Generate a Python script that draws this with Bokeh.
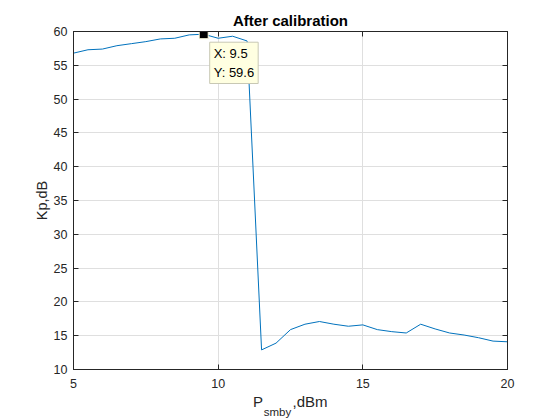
from bokeh.plotting import figure
from bokeh.models import Label, LinearAxis, FixedTicker, Range1d
from bokeh.embed import file_html
from bokeh.resources import INLINE

# ---- data ----
power_dbm = [5.0, 5.5, 6.0, 6.5, 7.0, 7.5, 8.0, 8.5, 9.0, 9.5, 10.0, 10.5, 11.0,
             11.5, 12.0, 12.5, 13.0, 13.5, 14.0, 14.5, 15.0, 15.5, 16.0, 16.5,
             17.0, 17.5, 18.0, 18.5, 19.0, 19.5, 20.0]
kp_db = [56.8, 57.3, 57.4, 57.9, 58.2, 58.5, 58.9, 59.0, 59.5, 59.6, 59.0, 59.3, 58.6,
         12.9, 13.9, 15.9, 16.7, 17.1, 16.7, 16.4, 16.6, 15.9, 15.6, 15.4,
         16.7, 16.0, 15.4, 15.1, 14.7, 14.2, 14.1]
x_ticks = [5, 10, 15, 20]
y_ticks = [10, 15, 20, 25, 30, 35, 40, 45, 50, 55, 60]
tip_x = [9.5]
tip_y = [59.6]
title_text = "After calibration"
ylabel_text = "Kp,dB"
xlabel_main = "P"
xlabel_sub = "smby"
xlabel_tail = ",dBm"

XMIN, XMAX = 5, 20
YMIN, YMAX = 10, 60

FONT = "Liberation Sans"
AX = "#262626"
GRID = "#dfdfdf"

W, H = 560, 420
BL, BR, BT, BB = 73, 53, 31, 50
PX_PER_X = (W - BL - BR) / (XMAX - XMIN)

p = figure(width=W, height=H, output_backend="svg", toolbar_location=None,
           x_range=Range1d(XMIN, XMAX), y_range=Range1d(YMIN, YMAX),
           min_border_left=BL, min_border_right=BR, min_border_top=BT,
           min_border_bottom=BB, background_fill_color="white",
           border_fill_color="white")

p.title.text = title_text
p.title.align = "center"
p.title.text_font = FONT
p.title.text_font_size = "15px"
p.title.text_font_style = "bold"
p.title.text_color = "black"
p.title.standoff = 6

p.outline_line_color = AX
p.outline_line_width = 1

for ax in (p.xaxis[0], p.yaxis[0]):
    ax.major_tick_in = 5
    ax.major_tick_out = 0
    ax.minor_tick_in = 0
    ax.minor_tick_out = 0
    ax.axis_line_color = AX
    ax.major_tick_line_color = AX
    ax.major_label_text_font = FONT
    ax.major_label_text_font_size = "12.5px"
    ax.major_label_text_color = AX

p.xaxis[0].ticker = FixedTicker(ticks=x_ticks)
p.yaxis[0].ticker = FixedTicker(ticks=y_ticks)
p.xaxis[0].major_label_standoff = 9
p.yaxis[0].major_label_standoff = 6

p.yaxis[0].axis_label = ylabel_text
p.yaxis[0].axis_label_text_font = FONT
p.yaxis[0].axis_label_text_font_size = "14.5px"
p.yaxis[0].axis_label_text_font_style = "normal"
p.yaxis[0].axis_label_text_color = AX
p.yaxis[0].axis_label_standoff = 1

# top and right axes with inward ticks only
common = dict(major_tick_in=5, major_tick_out=0, minor_tick_in=0, minor_tick_out=0,
              axis_line_color=AX, major_tick_line_color=AX,
              major_label_text_color=None, major_label_text_font_size="1px",
              major_label_standoff=0)
p.add_layout(LinearAxis(ticker=FixedTicker(ticks=x_ticks), **common), "above")
p.add_layout(LinearAxis(ticker=FixedTicker(ticks=y_ticks), **common), "right")

# x-axis label "P_smby,dBm" built from two tick-less axes below the main one
xc = (XMIN + XMAX) / 2
pos_main = xc - 32.5 / PX_PER_X      # centre of "P"
pos_tail = xc + 19.5 / PX_PER_X      # centre of ",dBm"
pos_sub = xc - 13.0 / PX_PER_X       # centre of "smby"
lab_common = dict(axis_line_color=None, major_tick_line_color=None,
                  minor_tick_line_color=None, major_tick_in=0, major_tick_out=0,
                  minor_tick_in=0, minor_tick_out=0, major_label_text_font=FONT,
                  major_label_text_color=AX)
lab1 = LinearAxis(ticker=FixedTicker(ticks=[pos_main, pos_tail]),
                  major_label_overrides={pos_main: xlabel_main, pos_tail: xlabel_tail},
                  major_label_text_font_size="15px", major_label_standoff=2,
                  **lab_common)
lab2 = LinearAxis(ticker=FixedTicker(ticks=[pos_sub]),
                  major_label_overrides={pos_sub: xlabel_sub},
                  major_label_text_font_size="11.5px", major_label_standoff=-7,
                  **lab_common)
p.add_layout(lab1, "below")
p.add_layout(lab2, "below")

p.xgrid.ticker = FixedTicker(ticks=x_ticks)
p.ygrid.ticker = FixedTicker(ticks=y_ticks)
p.grid.grid_line_color = GRID
p.grid.grid_line_width = 1

p.line(power_dbm, kp_db, line_color="#0072BD", line_width=1)

# data tip
p.scatter(tip_x, tip_y, marker="square", size=9, fill_color="black",
          line_color="#ffffe1", line_width=1)
tip = Label(x=tip_x[0], y=tip_y[0], text=f"X: {tip_x[0]}\nY: {tip_y[0]}",
            x_offset=6, y_offset=-8, text_align="left", text_baseline="top",
            text_font=FONT, text_font_size="13px", text_color="black",
            text_line_height=1.22,
            background_fill_color="#ffffe1", border_line_color="#c8c8b4",
            border_line_width=1, padding=4)
p.add_layout(tip)

open("out.html", "w").write(file_html(p, INLINE))
